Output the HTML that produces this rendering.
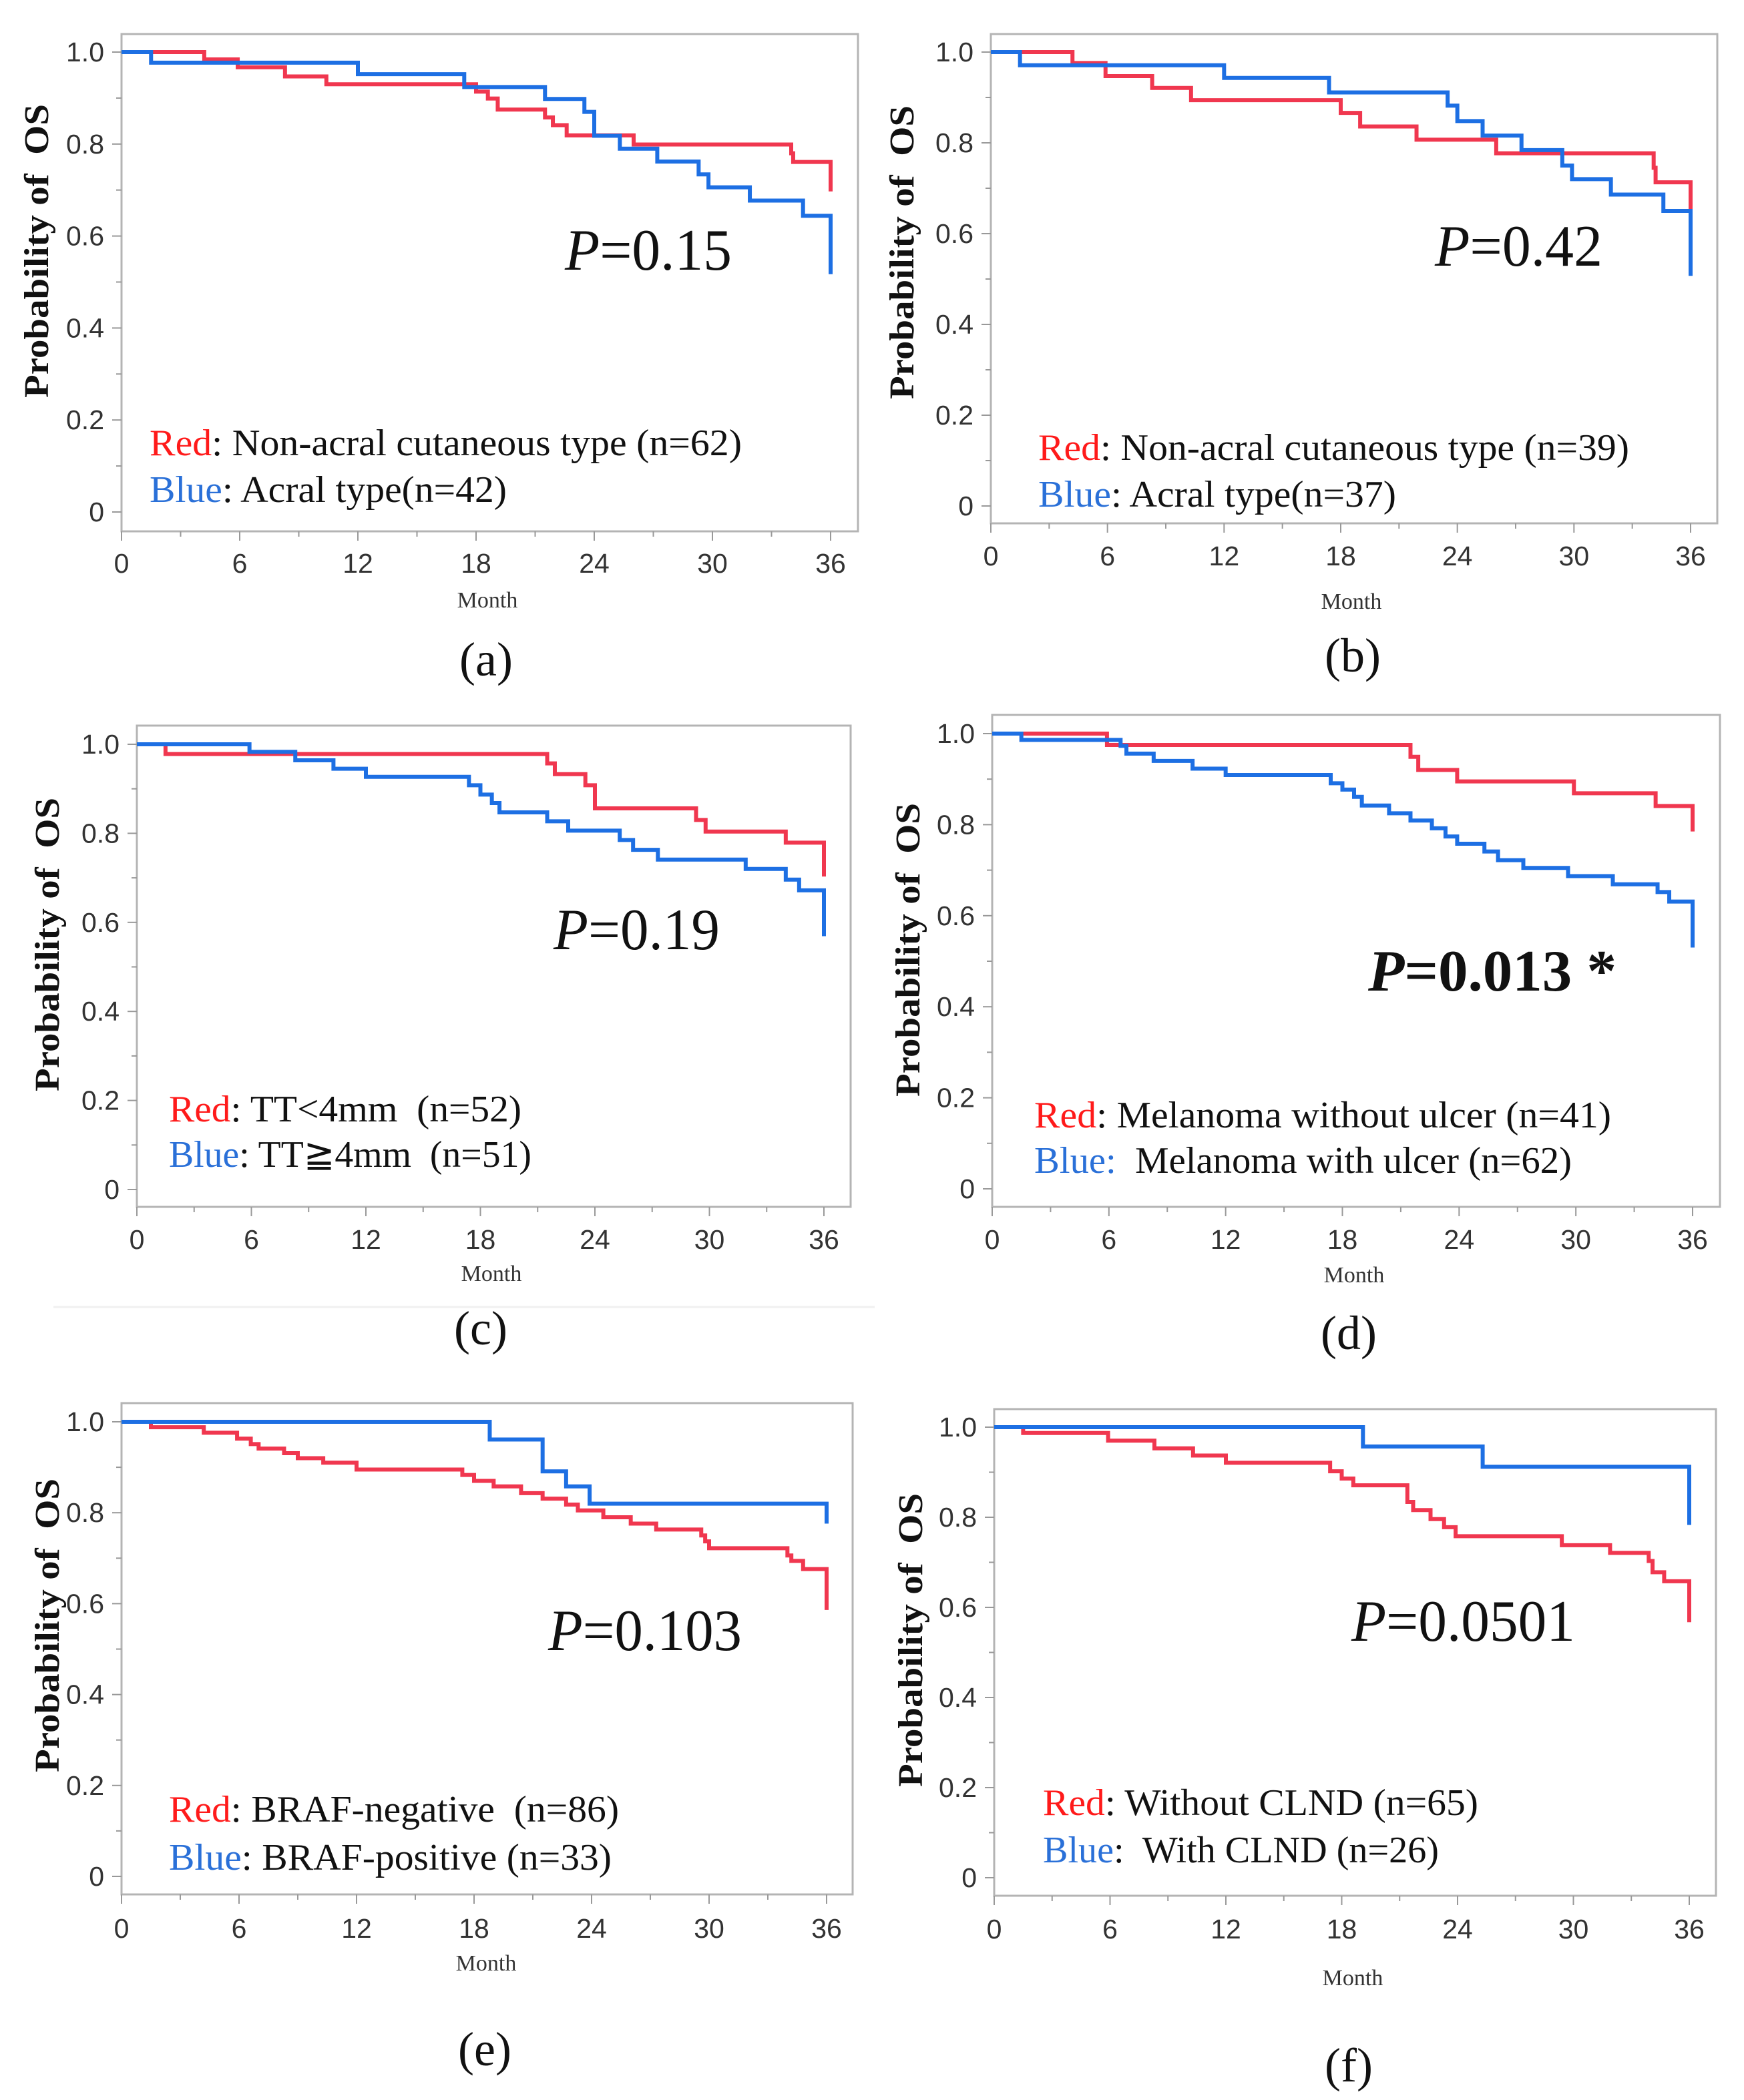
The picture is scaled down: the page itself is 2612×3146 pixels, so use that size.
<!DOCTYPE html>
<html><head><meta charset="utf-8">
<style>
html,body{margin:0;padding:0;background:#fff;}
svg{display:block;}
text{white-space:pre;}
</style></head>
<body>
<svg id="fig" xmlns="http://www.w3.org/2000/svg" width="2612" height="3146" viewBox="0 0 2612 3146">
<rect x="0" y="0" width="2612" height="3146" fill="#fff"/>
<line x1="80" y1="1958" x2="1310" y2="1958" stroke="#f0f0f0" stroke-width="3"/>
</svg>
<script>
// Panel (a)
const aRedT=[4.2,5.9,8.3,10.4,18.0,18.6,19.1,21.5,21.9,22.6,26.0,34.0,34.1,36];
const aRedS=[0.984,0.967,0.947,0.930,0.914,0.899,0.875,0.858,0.841,0.819,0.799,0.78,0.761,0.697];
const aBlueT=[1.5,12.0,17.4,21.5,23.5,24.0,25.3,27.2,29.3,29.8,31.9,34.6,36];
const aBlueS=[0.977,0.952,0.924,0.898,0.870,0.818,0.790,0.762,0.734,0.706,0.677,0.644,0.517];
// Panel (b)
const bRedT=[4.2,5.9,8.3,10.3,18.0,19.0,21.9,26.0,34.1,34.2,36];
const bRedS=[0.976,0.947,0.921,0.894,0.866,0.836,0.807,0.777,0.745,0.713,0.65];
const bBlueT=[1.5,12.0,17.4,23.5,24.0,25.3,27.3,29.4,29.9,31.9,34.6,36];
const bBlueS=[0.971,0.943,0.911,0.882,0.848,0.816,0.784,0.750,0.720,0.686,0.650,0.507];
// Panel (c)
const cRedT=[1.5,21.5,21.9,23.5,24.0,29.3,29.8,34.0,36];
const cRedS=[0.978,0.957,0.933,0.908,0.856,0.830,0.804,0.779,0.703];
const cBlueT=[5.9,8.3,10.3,12.0,17.4,18.0,18.6,19.0,21.5,22.6,25.3,26.0,27.3,31.9,34.0,34.7,36];
const cBlueS=[0.983,0.964,0.945,0.927,0.908,0.887,0.868,0.847,0.827,0.806,0.785,0.763,0.741,0.720,0.696,0.672,0.569];
// Panel (d)
const dRedT=[5.9,21.5,21.9,23.9,29.9,34.1,36];
const dRedS=[0.975,0.949,0.920,0.895,0.869,0.841,0.785];
const dBlueT=[1.5,6.6,6.9,8.3,10.3,12.0,17.4,18.0,18.6,19.0,20.4,21.5,22.6,23.3,23.9,25.3,26.0,27.3,29.6,31.9,34.2,34.8,36];
const dBlueS=[0.986,0.973,0.956,0.940,0.923,0.909,0.891,0.877,0.861,0.842,0.825,0.809,0.792,0.774,0.758,0.741,0.722,0.705,0.687,0.669,0.652,0.631,0.530];
// Panel (e)
const eRedT=[1.5,4.2,5.9,6.6,7.0,8.3,9.0,10.3,12.0,17.4,18.0,19.0,20.4,21.5,22.7,23.3,24.6,26.0,27.3,29.6,29.8,30.0,34.0,34.2,34.8,36];
const eRedS=[0.988,0.976,0.963,0.951,0.941,0.931,0.920,0.910,0.895,0.883,0.870,0.858,0.843,0.831,0.818,0.805,0.79,0.776,0.763,0.750,0.737,0.722,0.706,0.694,0.676,0.586];
const eBlueT=[18.8,21.5,22.7,23.9,36];
const eBlueS=[0.961,0.891,0.858,0.820,0.776];
// Panel (f)
const fRedT=[1.5,5.9,8.3,10.3,12.0,17.4,18.0,18.6,21.4,21.7,22.6,23.3,23.9,29.4,31.9,33.9,34.1,34.7,36];
const fRedS=[0.987,0.970,0.953,0.937,0.921,0.902,0.886,0.871,0.834,0.816,0.796,0.778,0.758,0.738,0.721,0.703,0.678,0.658,0.567];
const fBlueT=[19.1,25.3,36];
const fBlueS=[0.957,0.912,0.783];

const yTickVals=[0,0.2,0.4,0.6,0.8,1.0];
const yTickLabels=["0","0.2","0.4","0.6","0.8","1.0"];
const xTickVals=[0,6,12,18,24,30,36];

const panels=[
 {id:'a',x0:182,x36:1244,y1:78,y0:767,L:182,T:51,R:1285,B:796,xtY:856,mon:[730,910],tit:[54,376],P:[846,398],Ptxt:'0.15',Pw:250,bold:false,leg:[224,682,752],red:'Non-acral cutaneous type (n=62)',blue:'Acral type(n=42)',rw:887,bw:535,lab:[728,1012],rt:aRedT,rs:aRedS,bt:aBlueT,bs:aBlueS},
 {id:'b',x0:1484,x36:2532,y1:78,y0:758,L:1484,T:51,R:2572,B:784,xtY:845,mon:[2024,912],tit:[1350,378],P:[2149,392],Ptxt:'0.42',Pw:251,bold:false,leg:[1555,689,759],red:'Non-acral cutaneous type (n=39)',blue:'Acral type(n=37)',rw:885,bw:536,lab:[2026,1006],rt:bRedT,rs:bRedS,bt:bBlueT,bs:bBlueS},
 {id:'c',x0:205,x36:1234,y1:1115,y0:1782,L:205,T:1087,R:1274,B:1808,xtY:1869,mon:[736,1919],tit:[70,1415],P:[829,1416],Ptxt:'0.19',Pw:249,bold:false,leg:[253,1680,1748],red:'TT<4mm  (n=52)',blue:'TT\u22674mm  (n=51)',rw:528,bw:543,lab:[720,2014],rt:cRedT,rs:cRedS,bt:cBlueT,bs:cBlueS},
 {id:'d',x0:1486,x36:2535,y1:1099,y0:1781,L:1486,T:1071,R:2576,B:1808,xtY:1869,mon:[2028,1921],tit:[1359,1423],P:[2049,1478],Ptxt:'0.013 *',Pw:372,bold:true,leg:[1549,1689,1757],red:'Melanoma without ulcer (n=41)',blue:' Melanoma with ulcer (n=62)',rw:864,bw:805,lab:[2020,2021],rt:dRedT,rs:dRedS,bt:dBlueT,bs:dBlueS},
 {id:'e',x0:182,x36:1238,y1:2130,y0:2811,L:182,T:2102,R:1277,B:2838,xtY:2901,mon:[728,2952],tit:[70,2435],P:[821,2466],Ptxt:'0.103',Pw:290,bold:false,leg:[253,2729,2801],red:'BRAF-negative  (n=86)',blue:'BRAF-positive (n=33)',rw:674,bw:663,lab:[726,3094],rt:eRedT,rs:eRedS,bt:eBlueT,bs:eBlueS},
 {id:'f',x0:1489,x36:2530,y1:2138,y0:2813,L:1489,T:2111,R:2570,B:2840,xtY:2902,mon:[2026,2974],tit:[1363,2457],P:[2024,2452],Ptxt:'0.0501',Pw:335,bold:false,leg:[1562,2719,2790],red:'Without CLND (n=65)',blue:' With CLND (n=26)',rw:652,bw:593,lab:[2020,3118],rt:fRedT,rs:fRedS,bt:fBlueT,bs:fBlueS}
];
const NS='http://www.w3.org/2000/svg';
const svg=document.getElementById('fig');
function mk(tag,attrs,parent){const e=document.createElementNS(NS,tag);for(const k in attrs)e.setAttribute(k,attrs[k]);(parent||svg).appendChild(e);return e;}
function stepPath(T,S,xs,ys){let d='M'+xs(0)+','+ys(1);for(let i=0;i<T.length;i++){d+=' H'+xs(T[i])+' V'+ys(S[i]);}return d;}
panels.forEach(p=>{
 const xs=m=>p.x0+(p.x36-p.x0)*m/36;
 const ys=v=>p.y0+(p.y1-p.y0)*v;
 const g=mk('g',{});
 
 
 const box=mk('rect',{x:p.L,y:p.T,width:p.R-p.L,height:p.B-p.T,fill:'#fff',stroke:'#b4b4b4','stroke-width':3},g);
 
 
 for(let v=0;v<=10;v++){const major=v%2===0;mk('line',{x1:p.L-(major?14:8),x2:p.L,y1:ys(v/10),y2:ys(v/10),stroke:'#999','stroke-width':2},g);}
 yTickVals.forEach((v,i)=>{const t=mk('text',{x:p.L-26,y:ys(v)+14,'text-anchor':'end','font-family':'Liberation Sans, sans-serif','font-size':41,fill:'#333'},g);t.textContent=yTickLabels[i];
  
  });
 for(let m=0;m<=36;m+=3){mk('line',{x1:xs(m),x2:xs(m),y1:p.B,y2:p.B+(m%6===0?14:8),stroke:'#999','stroke-width':2},g);}
 xTickVals.forEach(v=>{const t=mk('text',{x:xs(v),y:p.xtY+2,'text-anchor':'middle','font-family':'Liberation Sans, sans-serif','font-size':41,fill:'#333'},g);t.textContent=String(v);
  
  });
 const mo=mk('text',{x:p.mon[0],y:p.mon[1],'text-anchor':'middle','font-family':'Liberation Serif, serif','font-size':34,fill:'#333'},g);mo.textContent='Month';
 
 
 const ti=mk('text',{x:0,y:0,'text-anchor':'middle','font-family':'Liberation Serif, serif','font-weight':'bold','font-size':52,fill:'#111',textLength:440,lengthAdjust:'spacingAndGlyphs',transform:`translate(${p.tit[0]+18},${p.tit[1]}) rotate(-90)`},g);ti.textContent='Probability of  OS';
 
 
 const red=mk('path',{d:stepPath(p.rt,p.rs,xs,ys),fill:'none',stroke:'#f0374f','stroke-width':6},g);
 
 
 const blue=mk('path',{d:stepPath(p.bt,p.bs,xs,ys),fill:'none',stroke:'#1d6fe3','stroke-width':6},g);
 
 
 const pt=mk('text',{x:p.P[0],y:p.P[1]+6,'font-family':'Liberation Serif, serif','font-size':88,fill:'#111','font-weight':p.bold?'bold':'normal',textLength:p.Pw,lengthAdjust:'spacingAndGlyphs'},g);
 
 
 const ts1=mk('tspan',{'font-style':'italic'},pt);ts1.textContent='P';
 const ts2=mk('tspan',{},pt);ts2.textContent='='+p.Ptxt;
 [[p.leg[1],'Red','#ff1a1a',p.red,p.rw,'legend-red'],[p.leg[2],'Blue','#2a70d8',p.blue,p.bw,'legend-blue']].forEach(l=>{
  const t=mk('text',{x:p.leg[0],y:l[0],'font-family':'Liberation Serif, serif','font-size':56,fill:'#111',textLength:l[4],lengthAdjust:'spacingAndGlyphs'},g);
  
  
  const a=mk('tspan',{fill:l[2]},t);a.textContent=l[1];
  const b=mk('tspan',{fill:(p.id==='d'&&l[1]==='Blue')?l[2]:'#111'},t);b.textContent=':';
  const c=mk('tspan',{},t);c.textContent=' '+l[3];
 });
 const lab=mk('text',{x:p.lab[0],y:p.lab[1],'text-anchor':'middle','font-family':'Liberation Serif, serif','font-size':72,fill:'#111'},svg);lab.textContent='('+p.id+')';
 
 
});
</script>
</body></html>
